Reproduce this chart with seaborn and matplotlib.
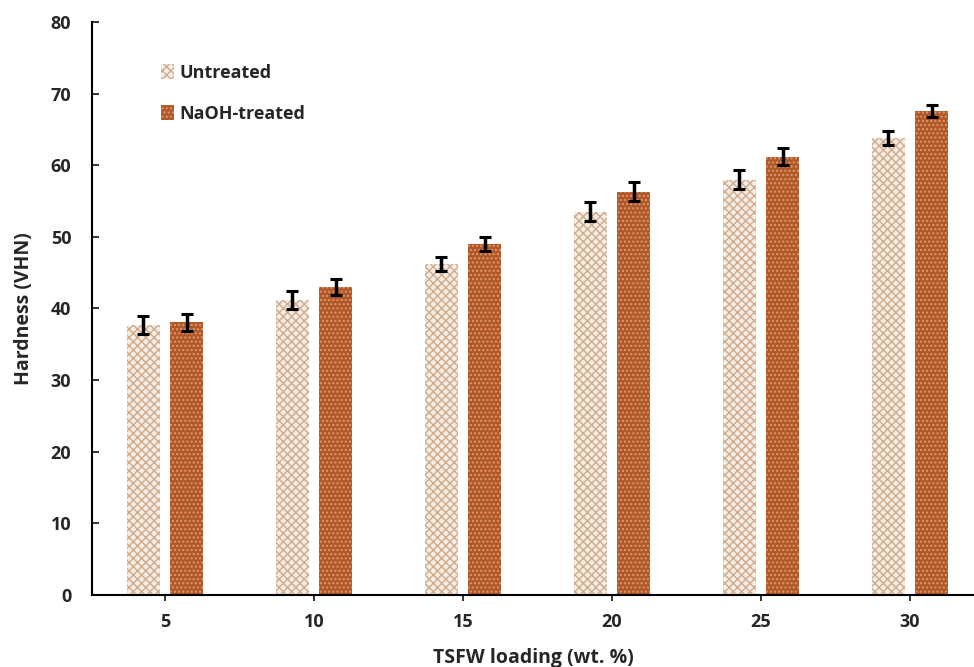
import matplotlib
matplotlib.use("Agg")
import matplotlib.pyplot as plt
import seaborn as sns
import pandas as pd
import numpy as np
from matplotlib.patches import Patch

loadings = ["5", "10", "15", "20", "25", "30"]
untreated = [37.7, 41.2, 46.2, 53.5, 58.0, 63.8]
untreated_err = [1.3, 1.3, 1.0, 1.3, 1.3, 1.0]
treated = [38.1, 43.0, 49.0, 56.3, 61.2, 67.6]
treated_err = [1.2, 1.1, 1.0, 1.3, 1.2, 0.8]
series = ["Untreated", "NaOH-treated"]

df = pd.DataFrame({
    "loading": loadings * 2,
    "hardness": untreated + treated,
    "err": untreated_err + treated_err,
    "series": [series[0]] * 6 + [series[1]] * 6,
})

sns.set_style("white")
plt.rcParams["font.family"] = ["Open Sans", "DejaVu Sans"]
plt.rcParams["hatch.linewidth"] = 1.0

fig = plt.figure(figsize=(9.74, 6.67), dpi=100)
ax = fig.add_axes([0.0945, 0.108, 0.9055, 0.859])

sns.barplot(data=df, x="loading", y="hardness", hue="series", order=loadings,
            hue_order=series, errorbar=None, width=0.58, gap=0.24, ax=ax,
            palette=["#f3e6da", "#b5602c"], legend=False)

styles = {
    series[0]: dict(face="#f5ede4", hatch="xxxx", edge="#cfab8c"),
    series[1]: dict(face="#b1582a", hatch="....", edge="#dc9a6a"),
}
n = len(loadings)
for i, p in enumerate(ax.patches[:2 * n]):
    s = series[i // n]
    p.set_facecolor(styles[s]["face"])
    p.set_hatch(styles[s]["hatch"])
    p.set_edgecolor(styles[s]["edge"])
    p.set_linewidth(0)
    row = df.iloc[i]
    ax.errorbar(p.get_x() + p.get_width() / 2, row["hardness"], yerr=row["err"],
                fmt="none", ecolor="black", elinewidth=2.5, capsize=4, capthick=2.2, zorder=5)

ax.set_ylim(0, 80)
ax.set_xlim(-0.49, 5.43)
ax.set_yticks(range(0, 81, 10))
for sp in ["top", "right"]:
    ax.spines[sp].set_visible(False)
for sp in ["left", "bottom"]:
    ax.spines[sp].set_color("black")
    ax.spines[sp].set_linewidth(1.5)
ax.tick_params(axis="y", direction="in", length=5, width=1.3, left=True, labelsize=13, pad=15)
ax.tick_params(axis="x", direction="out", length=4, width=1.3, bottom=True, labelsize=13, pad=9)
for lab in ax.get_xticklabels() + ax.get_yticklabels():
    lab.set_fontweight("bold")
ax.set_xlabel("TSFW loading (wt. %)", fontsize=14, fontweight="bold", labelpad=12)
ax.set_ylabel("Hardness (VHN)", fontsize=14, fontweight="bold", labelpad=12)

handles = [Patch(facecolor=styles[s]["face"], hatch=styles[s]["hatch"],
                 edgecolor=styles[s]["edge"], linewidth=0, label=s) for s in series]
ax.legend(handles=handles, loc="upper left", bbox_to_anchor=(0.06, 0.955), frameon=False,
          prop={"weight": "bold", "size": 13}, handlelength=0.7, handleheight=0.9,
          handletextpad=0.3, labelspacing=1.25)

fig.savefig("out.png", dpi=100)
